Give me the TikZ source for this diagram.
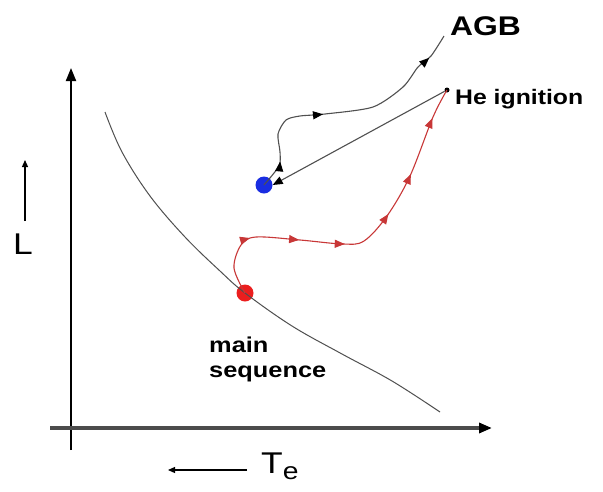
\documentclass[tikz,border=0pt]{standalone}
\usepackage{fontspec}
\setmainfont{Liberation Sans}[FakeStretch=1.18]
\usetikzlibrary{arrows.meta,decorations.markings}
\definecolor{trackred}{RGB}{200,55,55}
\definecolor{dotred}{RGB}{235,30,30}
\definecolor{dotblue}{RGB}{25,45,225}
\definecolor{curvegray}{RGB}{80,80,80}
\tikzset{
  tri/.tip={Triangle[length=10pt,width=8pt]},
  bigtri/.tip={Triangle[length=13pt,width=10pt]},
  dotnode/.style={circle,inner sep=0pt,minimum size=17pt},
  lbl/.style={inner sep=0pt,align=left},
}
\begin{document}
\begin{tikzpicture}[x=1pt,y=-1pt]
\useasboundingbox (0,0) rectangle (603,491);
\fill[white] (0,0) rectangle (603,491);
% axes
\coordinate (yb) at (71,450);
\coordinate (yt) at (71,68);
\coordinate (xl) at (50,428);
\coordinate (xr) at (492,428);
\draw[line width=2pt,-{bigtri}] (yb) -- (yt);
\draw[line width=3.2pt,black!70,-{bigtri[black]}] (xl) -- (xr);
% axis labels
\coordinate (La) at (25,221);
\coordinate (Lb) at (25,160);
\draw[line width=1.2pt,-{Triangle[length=7pt,width=6pt]}] (La) -- (Lb);
\node[lbl,font=\fontsize{30}{30}\selectfont] (L) at (23,244) {L};
\coordinate (Ta) at (247,470);
\coordinate (Tb) at (168,470);
\draw[line width=1.2pt,-{Triangle[length=7pt,width=6pt]}] (Ta) -- (Tb);
\node[lbl,font=\fontsize{30}{30}\selectfont,anchor=west] (Te) at (261,466) {T\raisebox{-6pt}{\fontsize{24}{24}\selectfont e}};
% dots
\node[dotnode,fill=dotred] (ms) at (245,293) {};
\node[dotnode,fill=dotblue] (hb) at (264,185) {};
\node[circle,fill=black,inner sep=0pt,minimum size=5pt] (he) at (447,90) {};
% main sequence curve
\draw[curvegray,line width=1pt] plot[smooth,tension=0.6] coordinates
  {(105,112) (122,152) (150,196) (185,237) (220,271) (ms) (292,326) (342,354) (392,381) (440,412)};
% red track
\draw[trackred,line width=1.1pt,postaction={decorate},
  decoration={markings,
    mark=at position 0.18 with {\arrow{tri}},
    mark=at position 0.32 with {\arrow{tri}},
    mark=at position 0.45 with {\arrow{tri}},
    mark=at position 0.61 with {\arrow{tri}},
    mark=at position 0.74 with {\arrow{tri}},
    mark=at position 0.91 with {\arrow{tri}}}]
  plot[smooth,tension=0.55] coordinates
  {(ms) (234,268) (241,245) (256,237) (300,240) (343,244) (364,241) (387,216) (410,176) (433,117) (he)};
% he ignition to horizontal branch
\draw[curvegray,line width=1.1pt,-{tri[black]}] (he) -- (hb.east);
% black track to AGB
\coordinate (agbend) at (444,36);
\draw[curvegray,line width=1.1pt,postaction={decorate},
  decoration={markings,
    mark=at position 0.11 with {\arrow{tri[black]}},
    mark=at position 0.42 with {\arrow{tri[black]}},
    mark=at position 0.90 with {\arrow{tri[black]}}}]
  plot[smooth,tension=0.45] coordinates
  {(hb) (279,166) (280,152) (278,134) (286,120) (300,116) (325,114) (373,107) (403,87) (418,67) (431,56) (agbend)};
% labels
\node[lbl,font=\bfseries\fontsize{27}{27}\selectfont,anchor=west] (agb) at (450,26) {AGB};
\node[lbl,font=\bfseries\fontsize{21}{21}\selectfont,anchor=west] (hel) at (455,99) {He ignition};
\node[lbl,font=\bfseries\fontsize{21.5}{25}\selectfont,anchor=north west] (msl) at (209,337) {main\\sequence};
\end{tikzpicture}
\end{document}
